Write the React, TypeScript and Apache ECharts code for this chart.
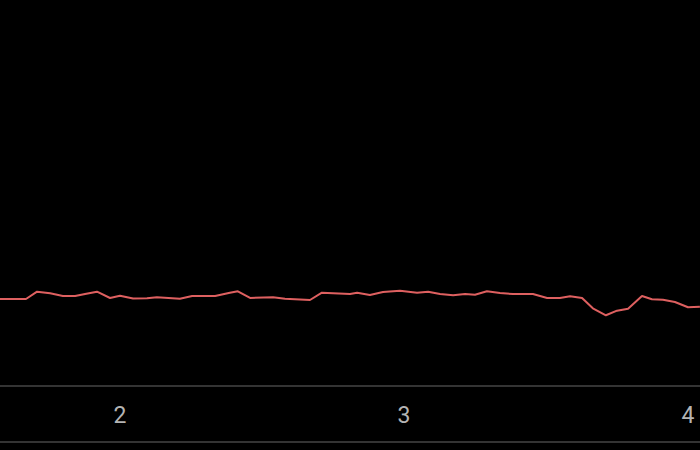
import React, { useEffect, useRef } from "react";
import * as echarts from "echarts";

const xValues = [
  1.577, 1.623, 1.669, 1.708, 1.754, 1.799, 1.842, 1.877, 1.919, 1.965,
  2.0, 2.046, 2.095, 2.13, 2.211, 2.254, 2.335, 2.387, 2.415, 2.458,
  2.539, 2.581, 2.669, 2.711, 2.81, 2.835, 2.88, 2.926, 2.986, 3.046,
  3.085, 3.127, 3.173, 3.215, 3.25, 3.292, 3.338, 3.384, 3.454, 3.504,
  3.549, 3.585, 3.627, 3.665, 3.711, 3.75, 3.789, 3.838, 3.873, 3.912,
  3.954, 4.0, 4.042,
];

const yValues = [
  22.54, 22.54, 22.54, 24.43, 24.02, 23.32, 23.32, 23.83, 24.43, 22.8,
  23.39, 22.67, 22.72, 22.98, 22.62, 23.32, 23.32, 24.17, 24.53, 22.8,
  22.98, 22.62, 22.28, 24.17, 23.83, 24.17, 23.58, 24.35, 24.69, 24.17,
  24.43, 23.83, 23.5, 23.83, 23.65, 24.53, 24.09, 23.83, 23.83, 22.8,
  22.8, 23.24, 22.8, 20.13, 18.32, 19.51, 20.03, 23.32, 22.46, 22.36,
  21.76, 20.39, 20.54,
];

const tickLabels = [2, 3, 4];

export default function App() {
  const ref = useRef<HTMLDivElement>(null);

  useEffect(() => {
    if (!ref.current) return;
    const chart = echarts.init(ref.current, undefined, { renderer: "svg" });
    chart.setOption({
      animation: false,
      backgroundColor: "#000000",
      grid: { left: 0, right: 0, top: 0, bottom: 64, containLabel: false },
      xAxis: {
        type: "value",
        min: 1.5775,
        max: 4.0423,
        axisLine: { show: true, lineStyle: { color: "#464646", width: 1.5 } },
        axisTick: { show: false },
        splitLine: { show: false },
        axisLabel: {
          customValues: tickLabels,
          color: "#b4b4b4",
          fontSize: 23,
          fontFamily: "Roboto",
          margin: 18,
          showMinLabel: true,
          showMaxLabel: true,
        },
      },
      yAxis: {
        type: "value",
        min: 0,
        max: 100,
        show: false,
        splitLine: { show: false },
      },
      graphic: [
        {
          type: "line",
          shape: { x1: 0, y1: 442, x2: 700, y2: 442 },
          style: { stroke: "#464646", lineWidth: 1.5 },
        },
      ],
      series: [
        {
          type: "line",
          data: xValues.map((x, i) => [x, yValues[i]]),
          showSymbol: false,
          lineStyle: { color: "#de6060", width: 2 },
          itemStyle: { color: "#de6060" },
        },
      ],
    });
    return () => chart.dispose();
  }, []);

  return (
    <div
      ref={ref}
      style={{ position: "absolute", left: 0, top: 0, width: 700, height: 450, background: "#000" }}
    />
  );
}
